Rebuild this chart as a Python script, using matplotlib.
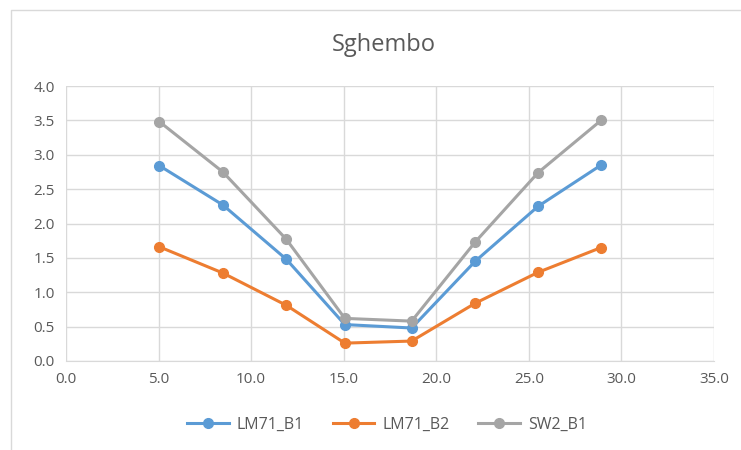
import matplotlib.pyplot as plt
from matplotlib.lines import Line2D

x_vals = [5.05, 8.47, 11.9, 15.06, 18.67, 22.1, 25.5, 28.9]
lm71_b1 = [2.84, 2.27, 1.48, 0.53, 0.48, 1.45, 2.25, 2.85]
lm71_b2 = [1.66, 1.28, 0.81, 0.26, 0.29, 0.84, 1.29, 1.65]
sw2_b1 = [3.48, 2.75, 1.77, 0.62, 0.58, 1.73, 2.74, 3.50]

labels = ["LM71_B1", "LM71_B2", "SW2_B1"]
colors = ["#5b9bd5", "#ed7d31", "#a5a5a5"]

plt.rcParams['font.family'] = ['Open Sans', 'DejaVu Sans']

fig = plt.figure(figsize=(7.41, 4.5), dpi=100)
ax = fig.add_axes([66/741, 1 - 361/450, (714-66)/741, (361-86)/450])

for ys, lab, c in zip([lm71_b1, lm71_b2, sw2_b1], labels, colors):
    ax.plot(x_vals, ys, color=c, lw=2.2, marker='o', ms=7, label=lab)

ax.set_xlim(0, 35)
ax.set_ylim(0, 4)
ax.set_xticks([0, 5, 10, 15, 20, 25, 30, 35])
ax.set_yticks([0, 0.5, 1, 1.5, 2, 2.5, 3, 3.5, 4])
ax.xaxis.set_major_formatter(plt.FormatStrFormatter('%.1f'))
ax.yaxis.set_major_formatter(plt.FormatStrFormatter('%.1f'))
ax.grid(True, color='#d9d9d9', lw=1)
ax.set_axisbelow(True)
for s in ['top', 'right', 'left']:
    ax.spines[s].set_visible(False)
ax.spines['bottom'].set_color('#d9d9d9')
ax.tick_params(length=0, labelsize=11, labelcolor='#595959', pad=8)

fig.text(384/741, 1 - 45/450, "Sghembo", ha='center', va='center', fontsize=17, color='#595959')
fig.legend(loc='center', bbox_to_anchor=(387/741, 1 - 425/450), ncol=3, frameon=False,
           fontsize=11.5, labelcolor='#595959', handlelength=2.6, columnspacing=1.8,
           handletextpad=0.5)

# chart frame (only left and top edges visible in the crop)
fig.add_artist(Line2D([11/741, 11/741, 1], [0, 1 - 10/450, 1 - 10/450],
                      transform=fig.transFigure, color='#d9d9d9', lw=1))

fig.savefig("out.png", dpi=100)
